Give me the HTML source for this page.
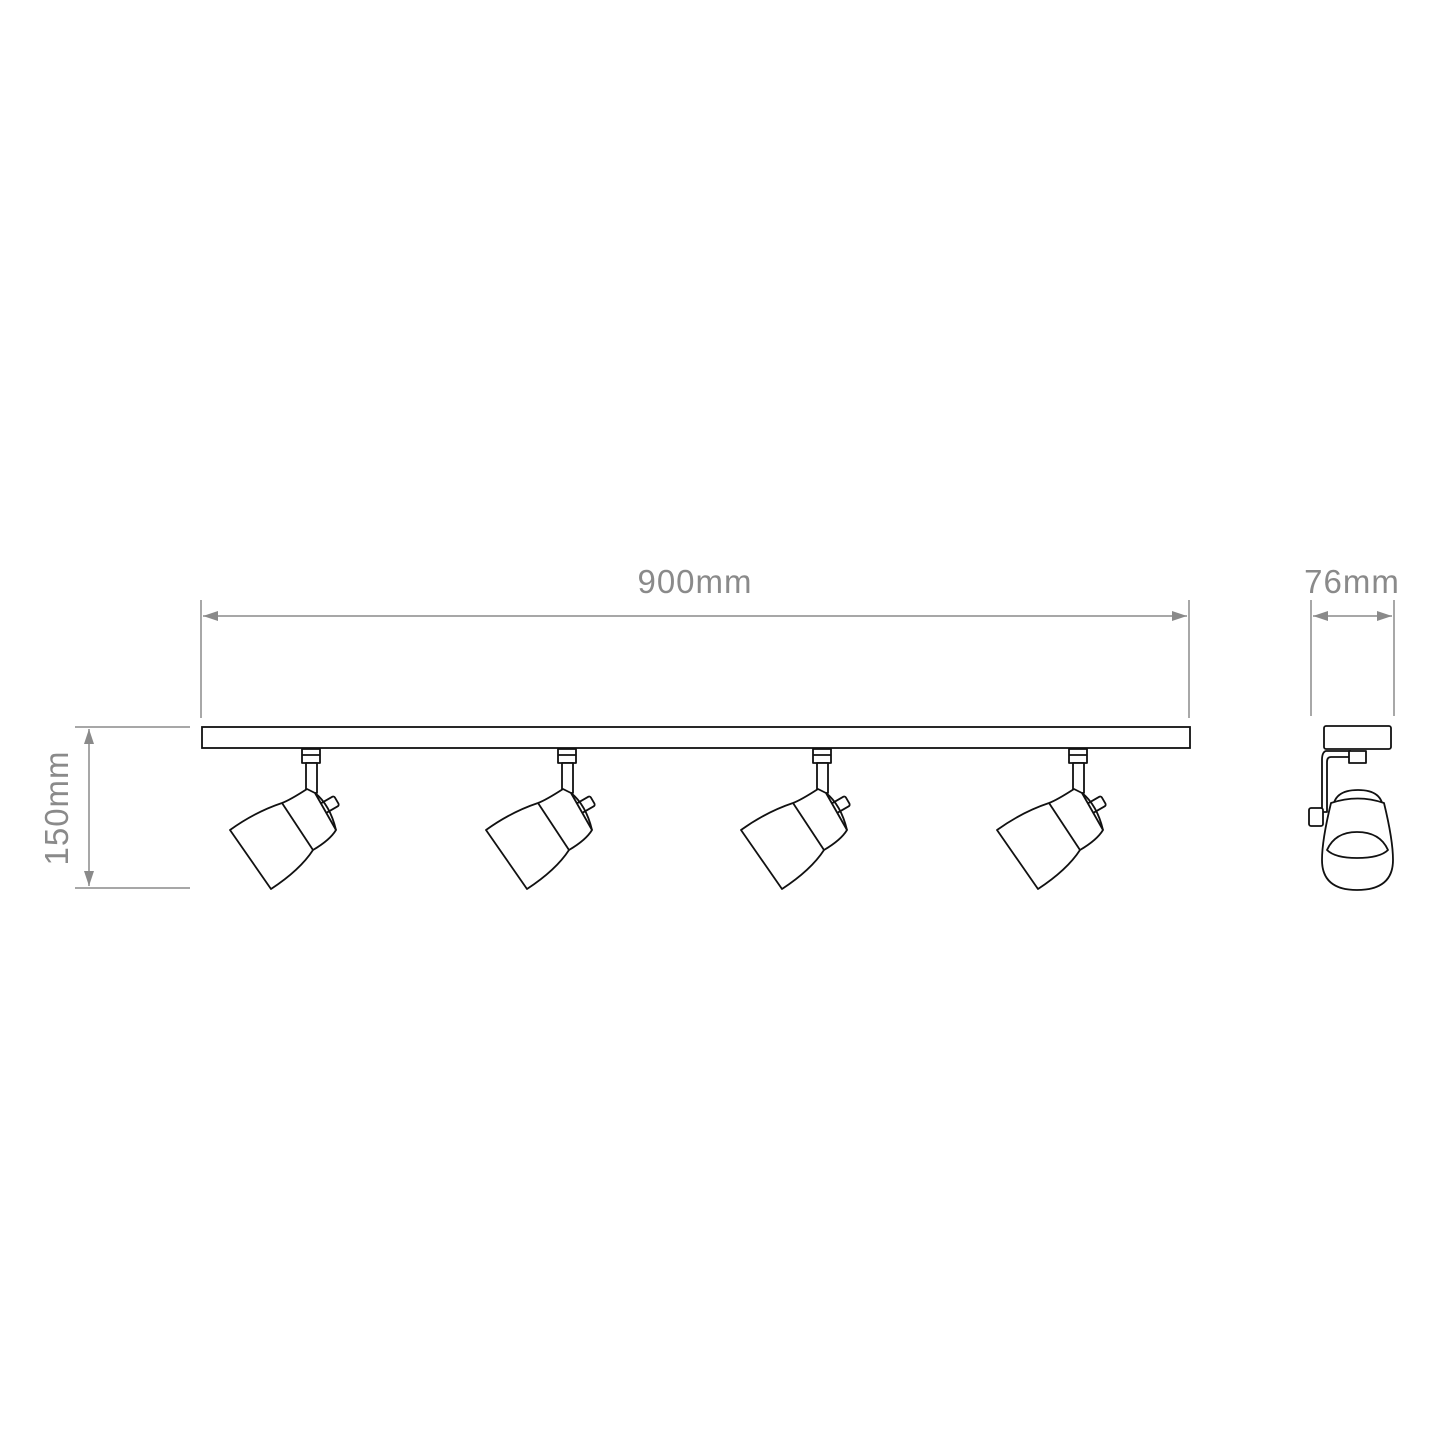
<!DOCTYPE html>
<html><head><meta charset="utf-8"><style>
html,body{margin:0;padding:0;background:#fff;}
svg{display:block}
text{font-family:"Liberation Sans",sans-serif;fill:#8a8a8a;font-size:33px;letter-spacing:1px}
</style></head><body>
<svg width="1445" height="1445" viewBox="0 0 1445 1445" xmlns="http://www.w3.org/2000/svg">
<defs>
<marker id="a" viewBox="0 0 15 10" refX="15" refY="5" markerWidth="15" markerHeight="10" orient="auto-start-reverse" markerUnits="userSpaceOnUse"><path d="M0,0 L15,5 L0,10z" fill="#8a8a8a"/></marker>
<g id="spot" fill="#fff" stroke="#111" stroke-width="1.8" stroke-linejoin="round">
<rect x="302" y="749" width="18" height="14"/>
<line x1="302" y1="755" x2="320" y2="755"/>
<rect x="306" y="763" width="11" height="30"/>
<g transform="rotate(-30 330 805)"><rect x="322" y="799" width="16" height="11" rx="2"/></g>
<path d="M307,789 Q290,800 282,803 Q255,812 230,830 L271,889 Q300,870 313,850 Q330,840 336,830 L315,793 Z"/>
<path d="M315,793 Q330,805 336,830" fill="none"/>
<line x1="282" y1="803" x2="313" y2="850"/>
</g>
</defs>
<g stroke="#8a8a8a" stroke-width="1.5" fill="none">
<line x1="201" y1="600" x2="201" y2="718"/>
<line x1="1189" y1="600" x2="1189" y2="718"/>
<line x1="203" y1="616" x2="1187" y2="616" marker-start="url(#a)" marker-end="url(#a)"/>
<line x1="1311" y1="600" x2="1311" y2="716"/>
<line x1="1394" y1="600" x2="1394" y2="716"/>
<line x1="1313" y1="616" x2="1392" y2="616" marker-start="url(#a)" marker-end="url(#a)"/>
<line x1="75" y1="727" x2="190" y2="727"/>
<line x1="75" y1="888" x2="190" y2="888"/>
<line x1="89" y1="729" x2="89" y2="886" marker-start="url(#a)" marker-end="url(#a)"/>
</g>
<text x="695" y="593" text-anchor="middle">900mm</text>
<text x="1352" y="593" text-anchor="middle">76mm</text>
<text transform="translate(68,808) rotate(-90)" text-anchor="middle">150mm</text>
<rect x="202" y="727" width="988" height="21" fill="#fff" stroke="#111" stroke-width="1.8"/>
<use href="#spot"/>
<use href="#spot" transform="translate(256,0)"/>
<use href="#spot" transform="translate(511,0)"/>
<use href="#spot" transform="translate(767,0)"/>
<g fill="#fff" stroke="#111" stroke-width="1.8" stroke-linejoin="round">
<rect x="1324" y="726" width="67" height="23" rx="2"/>
<path d="M1351,751 L1326,751 Q1322,752 1322,760 L1322,812 L1327,812 L1327,762 Q1327,757 1331,757 L1351,757"/>
<rect x="1349" y="751" width="17" height="12"/>
<path d="M1333,810 Q1333,790 1358,790 Q1383,790 1383,810"/>
<path d="M1331,803 Q1322,840 1322,860 Q1322,890 1357,890 Q1393,890 1393,860 Q1393,840 1384,803 Q1358,794 1331,803 Z"/>
<path d="M1327,850 Q1335,832 1357,832 Q1380,832 1388,850 Q1380,858 1357,858 Q1335,858 1327,850 Z" fill="none"/>
<rect x="1309" y="808" width="14" height="18" rx="2"/>
</g>
</svg>
</body></html>
